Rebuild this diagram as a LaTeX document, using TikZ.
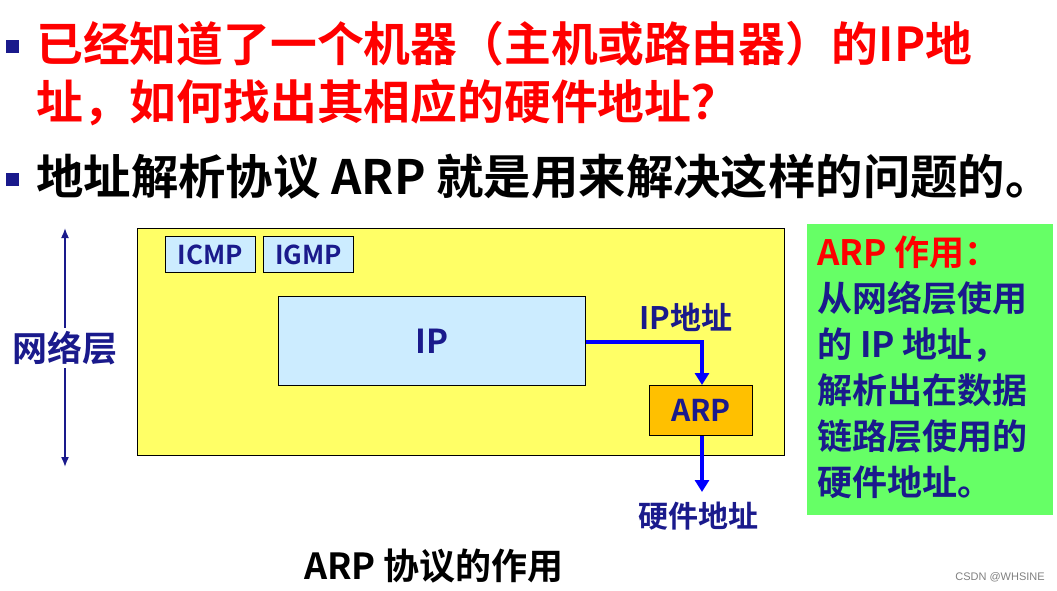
\documentclass[tikz,border=0pt]{standalone}
\usepackage{fontspec}
\setmainfont{Liberation Sans}
\newfontfamily\cjk{Noto Sans CJK SC Bold}
\definecolor{navy}{HTML}{1A1A8C}
\definecolor{lblue}{HTML}{CCECFF}
\definecolor{ylw}{HTML}{FFFF66}
\definecolor{org}{HTML}{FFC000}
\definecolor{grn}{HTML}{66FF66}
\definecolor{arrb}{HTML}{0000FF}
\tikzset{
 bx/.style={draw=black,line width=0.8pt,inner sep=0pt},
 lbl/.style={font=\cjk\fontsize{30}{32}\selectfont,text=navy,inner sep=0pt},
 bullet/.style={fill=navy,minimum size=13pt,inner sep=0pt},
 flow/.style={draw=arrb,line width=3.5pt,-{Triangle[length=12pt,width=14pt]}}
}
\usetikzlibrary{arrows.meta}
\begin{document}
\begin{tikzpicture}[x=1pt,y=-1pt]
\useasboundingbox (0,0) rectangle (1057,590);
\node[bullet] (b1) at (12,46) {};
\node[bullet] (b2) at (12,179) {};
\node[anchor=west,inner sep=0pt,text=red,font=\cjk\fontsize{46.8}{48}\selectfont] (t1) at (36,44) {已经知道了一个机器（主机或路由器）的IP地};
\node[anchor=west,inner sep=0pt,text=red,font=\cjk\fontsize{46.8}{48}\selectfont] (t2) at (36,103) {址，如何找出其相应的硬件地址？};
\node[anchor=west,inner sep=0pt,text=black,font=\cjk\fontsize{47.4}{48}\selectfont] (t3) at (36,177) {地址解析协议 ARP 就是用来解决这样的问题的。};
\node[bx,fill=ylw,minimum width=647pt,minimum height=227pt,anchor=north west] (net) at (137,228) {};
\node[bx,fill=lblue,minimum width=90pt,minimum height=36pt,anchor=north west,font=\cjk\fontsize{26}{28}\selectfont,text=navy] (icmp) at (165,236) {ICMP};
\node[bx,fill=lblue,minimum width=90pt,minimum height=36pt,anchor=north west,font=\cjk\fontsize{26}{28}\selectfont,text=navy] (igmp) at (263,236) {IGMP};
\node[bx,fill=lblue,minimum width=307pt,minimum height=89pt,anchor=north west,font=\cjk\fontsize{33}{34}\selectfont,text=navy] (ip) at (278,296) {IP};
\node[bx,fill=org,minimum width=103pt,minimum height=50pt,anchor=north west,font=\cjk\fontsize{30}{32}\selectfont,text=navy] (arp) at (649,385) {ARP};
\coordinate (hw) at (702,492);
\draw[flow] (ip.east |- 0,342) -| (arp.north -| 702,0);
\draw[flow] (arp.south -| 702,0) -- (hw);
\node[lbl,font=\cjk\fontsize{31}{32}\selectfont] (ipl) at (686,317) {IP地址};
\node[lbl] (hwl) at (698,516) {硬件地址};
\coordinate (lt) at (65,228);
\coordinate (lb) at (65,467);
\draw[navy,line width=1.6pt,{Latex[length=10pt,width=8pt]}-{Latex[length=10pt,width=8pt]}] (lt) -- (lb);
\node[lbl,fill=white,inner sep=3pt,font=\cjk\fontsize{35}{36}\selectfont] (nl) at (65,348) {网络层};
\node[fill=grn,minimum width=246pt,minimum height=291pt,anchor=north west,inner sep=0pt] (g) at (807,224) {};
\node[anchor=north west,inner sep=0pt,align=left,font=\cjk\fontsize{35}{46}\selectfont,text=navy] (gt) at (817,236) {\textcolor{red}{ARP 作用：}\\从网络层使用\\的 IP 地址，\\解析出在数据\\链路层使用的\\硬件地址。};
\node[inner sep=0pt,font=\cjk\fontsize{36}{38}\selectfont] (cap) at (434,566) {ARP 协议的作用};
\node[inner sep=0pt,text=gray,font=\fontsize{11}{12}\selectfont] (cs) at (1000,577) {CSDN @WHSINE};
\end{tikzpicture}
\end{document}
